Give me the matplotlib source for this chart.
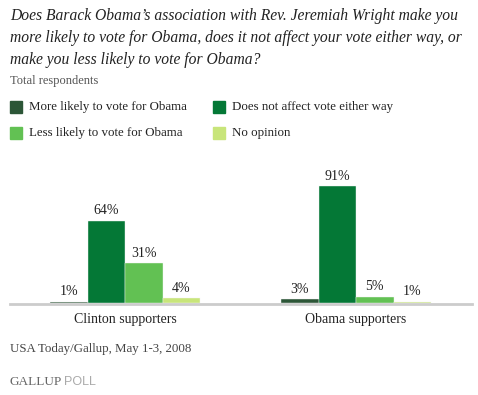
import matplotlib
matplotlib.use("Agg")
import matplotlib.pyplot as plt
import numpy as np

categories = ["Clinton supporters", "Obama supporters"]
series_names = ["More likely to vote for Obama", "Does not affect vote either way",
                "Less likely to vote for Obama", "No opinion"]
more_likely = [1, 3]
no_effect = [64, 91]
less_likely = [31, 5]
no_opinion = [4, 1]
series_values = [more_likely, no_effect, less_likely, no_opinion]
colors = ["#2c5637", "#047836", "#62c153", "#c8e57a"]

W, H = 478, 395
fig = plt.figure(figsize=(W / 100, H / 100), dpi=100)
serif = ["Liberation Serif", "DejaVu Serif"]

def fx(px):
    return px / W

def fy(py):
    return 1 - py / H

# Title
title_lines = ["Does Barack Obama\u2019s association with Rev. Jeremiah Wright make you",
               "more likely to vote for Obama, does it not affect your vote either way, or",
               "make you less likely to vote for Obama?"]
for i, line in enumerate(title_lines):
    fig.text(fx(10), fy(16 + 22 * i), line, family=serif, style="italic",
             fontsize=11.25, color="#222222", va="center", ha="left")
fig.text(fx(10), fy(81), "Total respondents", family=serif, fontsize=9,
         color="#555555", va="center", ha="left")

# Legend
leg_pos = [(10, 107), (213, 107), (10, 133), (213, 133)]
for (x, y), name, c in zip(leg_pos, series_names, colors):
    fig.patches.append(plt.Rectangle((fx(x), fy(y + 6)), 12 / W, 12 / H,
                                     transform=fig.transFigure, color=c))
    fig.text(fx(x + 19), fy(y), name, family=serif, fontsize=9.3,
             color="#222222", va="center", ha="left")

# Axes
ax_left, ax_right = 10, 472
ax_bottom, ax_top = 303, 172
ax = fig.add_axes([fx(ax_left), fy(ax_bottom), (ax_right - ax_left) / W,
                   (ax_bottom - ax_top) / H])
ymax = (ax_bottom - ax_top) / 1.286
ax.set_ylim(0, ymax)
ax.set_xlim(ax_left, ax_right)
group_centers = [125, 356]
bw = 37.5
offsets = np.array([-1.5, -0.5, 0.5, 1.5]) * bw
for j, (vals, c) in enumerate(zip(series_values, colors)):
    xs = [gc + offsets[j] for gc in group_centers]
    ax.bar(xs, vals, width=bw, color=c, edgecolor="#f4f4f4", linewidth=0.3, zorder=3)
    for xb, v in zip(xs, vals):
        ax.text(xb, v + 2.5, f"{v}%", ha="center", va="bottom",
                family=serif, fontsize=10, color="#222222")

for s in ["top", "right", "left"]:
    ax.spines[s].set_visible(False)
ax.spines["bottom"].set_color("#cccccc")
ax.spines["bottom"].set_linewidth(2)
ax.spines["bottom"].set_position(("outward", 1))
ax.spines["bottom"].set_zorder(1)
ax.set_yticks([])
ax.set_xticks(group_centers)
ax.set_xticklabels(categories, family=serif, fontsize=10, color="#222222")
ax.tick_params(axis="x", length=0, pad=6)
ax.patch.set_alpha(0)

fig.text(fx(10), fy(349), "USA Today/Gallup, May 1-3, 2008", family=serif,
         fontsize=9.3, color="#444444", va="center", ha="left")
fig.text(fx(10), fy(382), "GALLUP", family=serif, fontsize=9.5,
         color="#666666", va="center", ha="left")
fig.text(fx(64), fy(382), "POLL", family=["Liberation Sans", "DejaVu Sans"],
         fontsize=9, color="#aaaaaa", va="center", ha="left")

fig.savefig("out.png", dpi=100, facecolor="white")
